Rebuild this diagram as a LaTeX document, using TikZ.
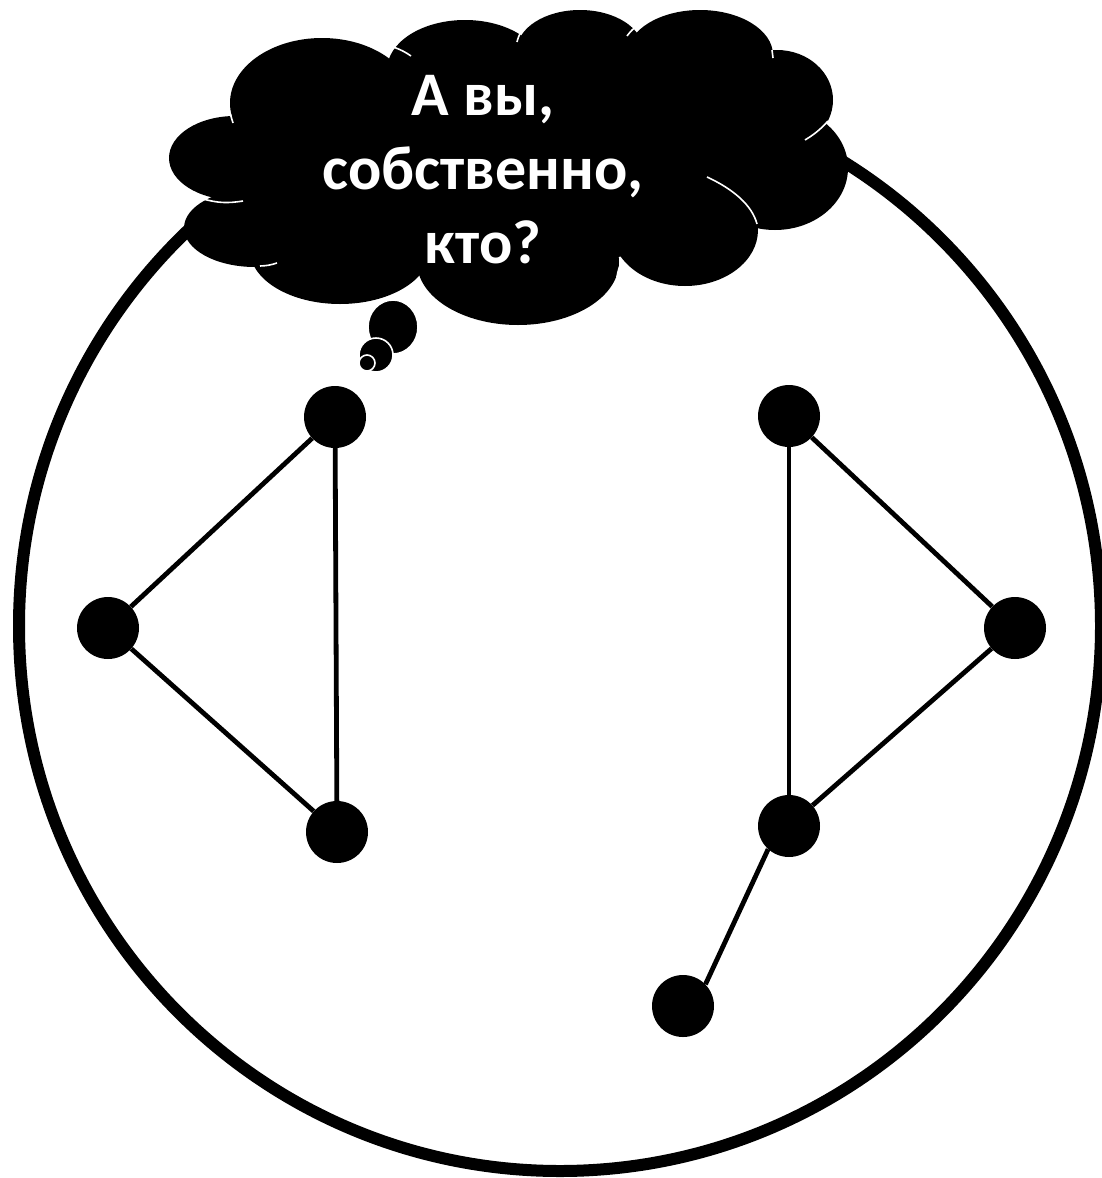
\documentclass[tikz,border=0pt]{standalone}
\usepackage{fontspec}
\setmainfont{Carlito}[BoldFont={Carlito Bold}]
\begin{document}
\begin{tikzpicture}[x=1pt,y=-1pt,
  vertex/.style={circle,fill=black,inner sep=0pt,minimum size=62pt},
  edge/.style={line width=4.8pt},
  lobe/.style={fill=black},
  seam/.style={white,line width=1.6pt},
  bubble/.style={fill=black,draw=white,line width=1.6pt}]
\useasboundingbox (0,0) rectangle (1101,1178);
% big ring
\draw[line width=12pt] (560,626) ellipse[x radius=541,y radius=545];
% graph
\node[vertex] (a) at (335,417) {};
\node[vertex] (b) at (108,628) {};
\node[vertex] (c) at (337,832) {};
\node[vertex] (d) at (789,416) {};
\node[vertex] (e) at (1015,628) {};
\node[vertex] (f) at (789,826) {};
\node[vertex] (g) at (683,1006) {};
\draw[edge] (a) -- (b);
\draw[edge] (b) -- (c);
\draw[edge] (a) -- (c);
\draw[edge] (d) -- (f);
\draw[edge] (d) -- (e);
\draw[edge] (e) -- (f);
\draw[edge] (g.44) -- (f.228);
% cloud
\fill[lobe] (500,170) ellipse[x radius=240,y radius=100];
\fill[lobe] (640,130) ellipse[x radius=170,y radius=85];
\fill[lobe] (235,158) ellipse[x radius=66,y radius=42];
\fill[lobe] (255,228) ellipse[x radius=71,y radius=39];
\fill[lobe] (322,103) ellipse[x radius=92,y radius=65];
\fill[lobe] (465,70) ellipse[x radius=78,y radius=50];
\fill[lobe] (580,50) ellipse[x radius=63,y radius=40];
\fill[lobe] (700,55) ellipse[x radius=73,y radius=45];
\fill[lobe] (777,100) ellipse[x radius=56,y radius=50];
\fill[lobe] (775,168) ellipse[x radius=73,y radius=62];
\fill[lobe] (685,230) ellipse[x radius=73,y radius=56];
\fill[lobe] (518,262) ellipse[x radius=101,y radius=63];
\fill[lobe] (340,250) ellipse[x radius=90,y radius=54];
% seams
\draw[seam] (203,199) to[bend right=12] (243,201);
\draw[seam] (260,266) to[bend right=8] (277,263);
\draw[seam] (417,283) to[bend right=8] (428,296);
\draw[seam] (617,277) to[bend left=10] (622,262);
\draw[seam] (707,177) .. controls (733,189) and (752,205) .. (757,224);
\draw[seam] (805,140) to[bend right=8] (828,121);
\draw[seam] (772,50) to (773,58);
\draw[seam] (627,36) to[bend left=8] (638,25);
\draw[seam] (517,42) to[bend left=8] (521,32);
\draw[seam] (393,47) to[bend left=8] (411,56);
\draw[seam] (230,113) to (233,123);
% bubbles
\draw[bubble] (393,327) ellipse[x radius=25,y radius=27];
\draw[bubble] (376,355) circle[radius=17];
\draw[bubble] (367,363) circle[radius=8];
% text
\node[text=white,align=center,font=\bfseries\fontsize{62}{74}\selectfont] (t) at (483,170) {А вы,\\собственно,\\кто?};
\end{tikzpicture}
\end{document}
